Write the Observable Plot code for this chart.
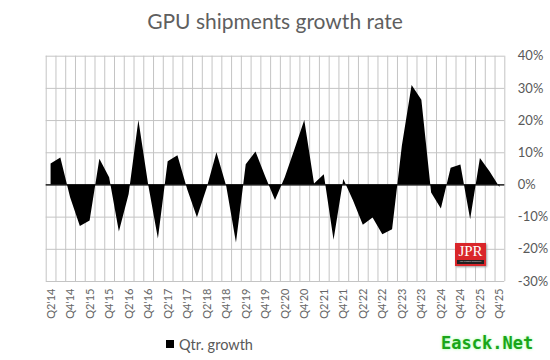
<!DOCTYPE html>
<html><head><meta charset="utf-8">
<script src="https://cdn.jsdelivr.net/npm/d3@7"></script>
<script src="https://cdn.jsdelivr.net/npm/@observablehq/plot@0.6"></script>
<style>
body{margin:0;background:#fff;font-family:Lato,sans-serif;}
#wrap{position:relative;width:550px;height:360px;overflow:hidden;background:#fff;}
#title{height:40px;line-height:42px;text-align:center;font-size:21px;color:#5f5f5f;}
#chart{height:286px;}
#legend{position:absolute;left:166px;top:334px;height:20px;display:flex;align-items:center;font-size:14.5px;color:#595959;}
#legend .sw{width:8px;height:8px;background:#000;margin-right:5px;}
#logo{position:absolute;left:455px;top:243px;width:31px;height:23px;background:#d9262a;box-shadow:1px 1px 2px #999;}
#logo .t{font-family:"Liberation Serif",serif;color:#fff;font-size:15px;line-height:17px;text-align:center;}
#logo .s{margin:0 2px;background:#222;height:4px;font-size:2.4px;color:#ddd;line-height:4px;text-align:center;white-space:nowrap;}
#wm{position:absolute;left:441px;top:333px;font-family:"DejaVu Sans Mono",monospace;font-weight:bold;font-size:17px;color:#1aa51a;text-shadow:0 0 3px #9f9;}
</style></head><body>
<div id="wrap">
<div id="title">GPU shipments growth rate</div>
<div id="chart"></div>
<div id="legend"><div class="sw"></div><span>Qtr. growth</span></div>
<div id="logo"><div class="t">JPR</div><div class="s">Jon Peddie Research</div></div>
<div id="wm">Easck.Net</div>
</div>
<script>
const quarters = ["Q2'14","Q3'14","Q4'14",
  "Q1'15","Q2'15","Q3'15","Q4'15",
  "Q1'16","Q2'16","Q3'16","Q4'16",
  "Q1'17","Q2'17","Q3'17","Q4'17",
  "Q1'18","Q2'18","Q3'18","Q4'18",
  "Q1'19","Q2'19","Q3'19","Q4'19",
  "Q1'20","Q2'20","Q3'20","Q4'20",
  "Q1'21","Q2'21","Q3'21","Q4'21",
  "Q1'22","Q2'22","Q3'22","Q4'22",
  "Q1'23","Q2'23","Q3'23","Q4'23",
  "Q1'24","Q2'24","Q3'24","Q4'24",
  "Q1'25","Q2'25","Q3'25","Q4'25"];
// quarterly growth, percent
const growth = [6.5, 8.4, -4.0,
  -12.9, -11.2, 8.0, 2.2,
  -14.6, -3.0, 20.0, 0.0,
  -16.8, 7.2, 9.1, -1.5,
  -10.2, -1.0, 10.0, -0.5,
  -18.0, 6.3, 10.2, 2.5,
  -4.8, 2.2, 11.0, 20.0,
  0.3, 3.2, -17.2, 1.7,
  -5.0, -12.5, -10.3, -15.5,
  -13.9, 12.0, 30.9, 26.3,
  -2.5, -7.5, 5.2, 6.2,
  -10.8, 8.2, 4.0, -0.8];
const yTicks = [-0.3, -0.2, -0.1, 0, 0.1, 0.2, 0.3, 0.4];
const xTickIdx = quarters.map((q, i) => i).filter(i => i % 2 === 0);

const data = growth.map((v, i) => ({i, q: quarters[i], v: v / 100}));
const bounds = d3.range(quarters.length + 1).map(k => k - 0.5);

const chart = Plot.plot({
  width: 550, height: 286,
  marginTop: 15.7, marginBottom: 45, marginLeft: 45.7, marginRight: 45.7,
  x: {type: "linear", domain: [-0.5, quarters.length - 0.5]},
  y: {domain: [-0.3, 0.4]},
  style: {fontFamily: "Lato, sans-serif", color: "#595959", background: "white"},
  marks: [
    Plot.ruleY(yTicks, {stroke: "#c4c4c4", strokeWidth: 1}),
    Plot.ruleX(bounds, {stroke: "#c4c4c4", strokeWidth: 1}),
    Plot.areaY(data, {x: "i", y: "v", fill: "black"}),
    Plot.ruleY([0], {stroke: "black", strokeWidth: 1.3}),
    Plot.axisX(xTickIdx, {tickFormat: i => quarters[i], tickRotate: -90, tickSize: 0, tickPadding: 7, fontSize: 11, fill: "#666666", label: null}),
    Plot.axisY(yTicks, {anchor: "right", tickSize: 0, tickPadding: 13, tickFormat: d => `${Math.round(d * 100)}%`, fontSize: 13, fill: "#595959", label: null})
  ]
});
document.getElementById("chart").appendChild(chart);
</script>
</body></html>
